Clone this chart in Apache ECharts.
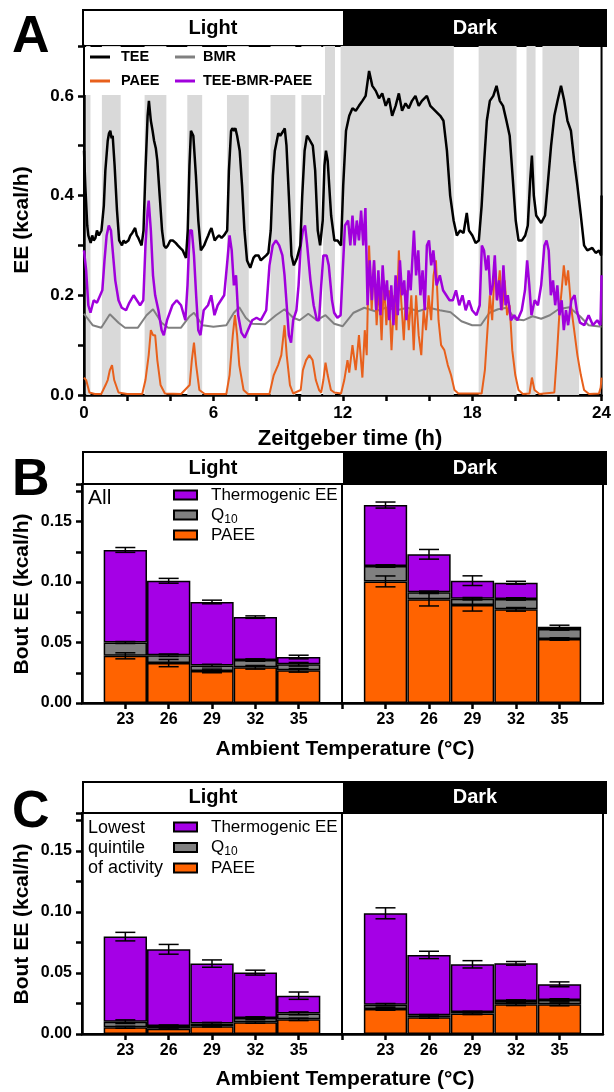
<!DOCTYPE html>
<html>
<head>
<meta charset="utf-8">
<script src="https://cdn.jsdelivr.net/npm/echarts@6/dist/echarts.min.js"></script>
<style>
  html, body { margin: 0; padding: 0; background: #fff; }
  #main { width: 614px; height: 1092px; }
</style>
</head>
<body>
<div id="main"></div>
<script>
// ---- panel A: traces over the day, [zeitgeber h, kcal/h] ----
var teeData = [[0,0.49],[0.06,0.42],[0.15,0.34],[0.2,0.32],[0.31,0.305],[0.38,0.32],[0.45,0.31],[0.53,0.315],[0.6,0.33],[0.69,0.32],[0.81,0.33],[0.92,0.38],[0.99,0.45],[1.1,0.51],[1.16,0.525],[1.22,0.53],[1.28,0.515],[1.33,0.52],[1.42,0.46],[1.53,0.37],[1.63,0.31],[1.76,0.30],[1.84,0.31],[1.91,0.305],[2.06,0.31],[2.15,0.32],[2.24,0.325],[2.37,0.335],[2.45,0.32],[2.52,0.315],[2.67,0.30],[2.76,0.33],[2.85,0.45],[2.95,0.56],[3.01,0.59],[3.1,0.55],[3.18,0.53],[3.25,0.51],[3.33,0.495],[3.4,0.47],[3.51,0.40],[3.62,0.33],[3.71,0.30],[3.8,0.295],[3.89,0.30],[4.0,0.31],[4.12,0.31],[4.25,0.305],[4.35,0.30],[4.46,0.295],[4.58,0.29],[4.73,0.275],[4.81,0.33],[4.89,0.46],[4.96,0.53],[5.07,0.52],[5.19,0.44],[5.3,0.35],[5.42,0.29],[5.57,0.30],[5.66,0.31],[5.76,0.32],[5.85,0.33],[5.91,0.335],[6.0,0.32],[6.06,0.31],[6.15,0.315],[6.26,0.32],[6.38,0.315],[6.49,0.32],[6.64,0.33],[6.72,0.45],[6.82,0.53],[6.88,0.535],[6.95,0.53],[7.02,0.535],[7.1,0.52],[7.22,0.49],[7.33,0.42],[7.44,0.33],[7.56,0.27],[7.71,0.255],[7.86,0.275],[7.95,0.28],[8.09,0.28],[8.2,0.27],[8.32,0.275],[8.45,0.28],[8.55,0.285],[8.66,0.33],[8.76,0.44],[8.85,0.49],[9.01,0.525],[9.1,0.52],[9.16,0.52],[9.25,0.53],[9.31,0.535],[9.39,0.50],[9.5,0.40],[9.62,0.28],[9.73,0.26],[9.88,0.275],[10.03,0.30],[10.12,0.40],[10.23,0.49],[10.34,0.52],[10.42,0.515],[10.49,0.515],[10.61,0.50],[10.72,0.45],[10.84,0.33],[10.95,0.30],[11.07,0.35],[11.15,0.46],[11.22,0.49],[11.3,0.47],[11.4,0.40],[11.46,0.36],[11.61,0.31],[11.76,0.31],[11.92,0.30],[12.02,0.42],[12.15,0.53],[12.3,0.56],[12.45,0.575],[12.6,0.57],[12.75,0.58],[12.91,0.59],[13.06,0.60],[13.22,0.65],[13.37,0.62],[13.53,0.61],[13.68,0.595],[13.83,0.605],[13.99,0.58],[14.14,0.595],[14.29,0.56],[14.45,0.58],[14.6,0.605],[14.75,0.57],[14.91,0.585],[15.06,0.575],[15.21,0.59],[15.37,0.60],[15.52,0.58],[15.67,0.59],[15.9,0.60],[16.06,0.58],[16.29,0.57],[16.52,0.56],[16.67,0.55],[16.83,0.49],[16.98,0.40],[17.14,0.35],[17.29,0.32],[17.44,0.33],[17.6,0.325],[17.75,0.365],[17.85,0.33],[18.01,0.32],[18.16,0.305],[18.31,0.31],[18.44,0.38],[18.56,0.47],[18.68,0.55],[18.82,0.59],[18.98,0.60],[19.13,0.62],[19.28,0.59],[19.43,0.58],[19.59,0.55],[19.74,0.52],[19.89,0.43],[20.02,0.35],[20.15,0.31],[20.31,0.31],[20.46,0.32],[20.58,0.34],[20.69,0.43],[20.77,0.48],[20.86,0.40],[20.97,0.36],[21.2,0.345],[21.38,0.36],[21.5,0.42],[21.66,0.50],[21.81,0.56],[21.96,0.59],[22.12,0.62],[22.27,0.59],[22.42,0.55],[22.58,0.53],[22.73,0.47],[22.88,0.42],[23.04,0.36],[23.19,0.30],[23.34,0.29],[23.57,0.295],[23.73,0.285],[23.88,0.29],[23.98,0.28],[24,0.40]];

var bmrData = [[0,0.163],[0.4,0.14],[0.8,0.135],[1.2,0.162],[1.6,0.145],[1.9,0.135],[2.5,0.135],[2.9,0.16],[3.2,0.172],[3.6,0.145],[3.9,0.135],[4.5,0.135],[4.9,0.158],[5.1,0.165],[5.5,0.14],[6,0.137],[6.6,0.14],[6.95,0.165],[7.2,0.176],[7.5,0.155],[7.8,0.143],[8.4,0.142],[8.9,0.16],[9.3,0.172],[9.7,0.155],[10.0,0.15],[10.4,0.163],[10.8,0.15],[11.2,0.16],[11.6,0.143],[12.0,0.138],[12.5,0.165],[13.0,0.175],[13.5,0.168],[14,0.175],[14.5,0.17],[15,0.175],[15.5,0.168],[16,0.175],[16.5,0.17],[17,0.166],[17.5,0.148],[18,0.14],[18.4,0.14],[18.8,0.165],[19.2,0.172],[19.6,0.175],[20,0.152],[20.4,0.15],[20.8,0.158],[21.2,0.153],[21.6,0.16],[22,0.172],[22.5,0.176],[23,0.158],[23.4,0.14],[24,0.137]];

var paeeData = [[0,0.035],[0.1,0.03],[0.25,0.005],[0.5,0.002],[0.8,0.002],[1.0,0.02],[1.1,0.03],[1.2,0.05],[1.3,0.06],[1.4,0.03],[1.6,0.005],[2.0,0.002],[2.7,0.002],[2.85,0.03],[3.0,0.08],[3.1,0.13],[3.2,0.12],[3.3,0.12],[3.4,0.07],[3.55,0.02],[3.75,0.003],[4.5,0.002],[4.9,0.02],[5.0,0.07],[5.1,0.105],[5.2,0.06],[5.35,0.01],[5.6,0.002],[6.6,0.002],[6.75,0.04],[6.9,0.12],[7.0,0.16],[7.1,0.12],[7.2,0.06],[7.4,0.01],[7.6,0.002],[8.6,0.002],[8.8,0.04],[9.0,0.06],[9.15,0.08],[9.3,0.14],[9.4,0.08],[9.55,0.02],[9.7,0.003],[10.05,0.01],[10.15,0.05],[10.3,0.07],[10.45,0.08],[10.6,0.07],[10.75,0.03],[10.9,0.01],[11.0,0.005],[11.1,0.03],[11.2,0.065],[11.3,0.04],[11.45,0.01],[11.61,0.005],[11.92,0.003],[12.07,0.03],[12.22,0.07],[12.3,0.045],[12.45,0.10],[12.6,0.05],[12.75,0.12],[12.91,0.035],[13.02,0.13],[13.11,0.08],[13.22,0.30],[13.34,0.17],[13.45,0.27],[13.57,0.14],[13.68,0.22],[13.8,0.11],[13.91,0.23],[14.02,0.14],[14.14,0.21],[14.26,0.09],[14.39,0.20],[14.49,0.13],[14.6,0.29],[14.71,0.19],[14.83,0.11],[14.94,0.21],[15.06,0.13],[15.18,0.20],[15.29,0.09],[15.4,0.20],[15.52,0.12],[15.64,0.08],[15.75,0.17],[15.86,0.13],[15.98,0.20],[16.1,0.15],[16.21,0.24],[16.32,0.27],[16.44,0.15],[16.56,0.10],[16.71,0.09],[16.87,0.06],[17.02,0.04],[17.18,0.01],[17.36,0.003],[18.44,0.003],[18.59,0.05],[18.71,0.13],[18.82,0.20],[18.93,0.15],[19.05,0.26],[19.15,0.19],[19.28,0.25],[19.39,0.17],[19.51,0.23],[19.62,0.16],[19.74,0.18],[19.86,0.09],[20.0,0.04],[20.15,0.01],[20.35,0.002],[20.66,0.003],[20.77,0.035],[20.89,0.01],[21.12,0.002],[21.81,0.005],[21.93,0.08],[22.04,0.16],[22.15,0.21],[22.25,0.26],[22.35,0.22],[22.45,0.25],[22.58,0.18],[22.73,0.13],[22.88,0.08],[23.04,0.04],[23.19,0.01],[23.42,0.002],[23.88,0.003],[23.96,0.015],[24,0.035]];

var restData = [[0,0.29],[0.1,0.25],[0.2,0.18],[0.3,0.165],[0.45,0.19],[0.6,0.185],[0.75,0.20],[0.85,0.21],[0.95,0.27],[1.05,0.32],[1.15,0.34],[1.25,0.33],[1.35,0.28],[1.45,0.23],[1.6,0.19],[1.75,0.175],[1.95,0.17],[2.1,0.185],[2.3,0.20],[2.45,0.19],[2.6,0.18],[2.75,0.19],[2.85,0.30],[2.95,0.37],[3.0,0.39],[3.1,0.33],[3.2,0.24],[3.3,0.20],[3.45,0.17],[3.6,0.13],[3.7,0.12],[3.85,0.15],[4.1,0.18],[4.3,0.19],[4.5,0.18],[4.7,0.15],[4.8,0.22],[4.9,0.33],[5.0,0.33],[5.1,0.28],[5.2,0.20],[5.3,0.13],[5.4,0.12],[5.55,0.17],[5.75,0.18],[5.9,0.20],[6.05,0.16],[6.2,0.18],[6.35,0.19],[6.5,0.20],[6.65,0.27],[6.75,0.32],[6.85,0.29],[6.95,0.22],[7.05,0.24],[7.15,0.16],[7.3,0.125],[7.45,0.115],[7.6,0.13],[7.8,0.15],[8.0,0.155],[8.2,0.15],[8.45,0.17],[8.6,0.26],[8.75,0.30],[8.9,0.31],[9.05,0.30],[9.2,0.28],[9.3,0.24],[9.4,0.18],[9.5,0.12],[9.6,0.105],[9.7,0.15],[9.85,0.17],[9.95,0.22],[10.05,0.30],[10.15,0.33],[10.25,0.34],[10.35,0.30],[10.5,0.23],[10.65,0.18],[10.8,0.15],[10.9,0.15],[11.0,0.22],[11.1,0.28],[11.25,0.28],[11.35,0.26],[11.5,0.19],[11.6,0.165],[11.75,0.155],[11.9,0.16],[12.0,0.25],[12.1,0.34],[12.25,0.35],[12.35,0.30],[12.45,0.36],[12.55,0.30],[12.65,0.35],[12.75,0.31],[12.85,0.37],[12.95,0.30],[13.05,0.375],[13.15,0.18],[13.25,0.27],[13.35,0.19],[13.45,0.27],[13.55,0.17],[13.65,0.25],[13.75,0.16],[13.85,0.26],[13.95,0.19],[14.05,0.23],[14.15,0.15],[14.25,0.22],[14.35,0.14],[14.45,0.24],[14.55,0.16],[14.65,0.27],[14.75,0.20],[14.85,0.23],[14.95,0.15],[15.05,0.25],[15.15,0.21],[15.3,0.33],[15.4,0.24],[15.5,0.29],[15.6,0.20],[15.7,0.25],[15.8,0.17],[15.9,0.30],[16.0,0.31],[16.1,0.26],[16.2,0.29],[16.35,0.22],[16.5,0.24],[16.65,0.21],[16.8,0.20],[16.95,0.19],[17.1,0.19],[17.25,0.21],[17.4,0.18],[17.55,0.20],[17.7,0.17],[17.85,0.19],[18.0,0.17],[18.2,0.16],[18.35,0.18],[18.45,0.30],[18.55,0.29],[18.65,0.25],[18.75,0.28],[18.85,0.20],[18.95,0.22],[19.05,0.28],[19.15,0.19],[19.25,0.23],[19.35,0.17],[19.45,0.26],[19.55,0.18],[19.65,0.20],[19.8,0.15],[19.95,0.16],[20.1,0.15],[20.3,0.17],[20.45,0.21],[20.55,0.27],[20.65,0.22],[20.75,0.16],[20.9,0.19],[21.05,0.18],[21.2,0.22],[21.35,0.30],[21.45,0.31],[21.55,0.29],[21.65,0.20],[21.75,0.23],[21.85,0.18],[21.95,0.22],[22.05,0.16],[22.15,0.19],[22.25,0.13],[22.35,0.17],[22.45,0.14],[22.6,0.19],[22.75,0.20],[22.85,0.17],[23.0,0.145],[23.2,0.14],[23.4,0.16],[23.6,0.14],[23.8,0.15],[23.95,0.14],[24.0,0.24]];

// shaded activity periods (h)
var activeBands = [[0.1,0.3],[0.83,1.7],[2.81,3.82],[4.79,5.48],[6.63,7.64],[8.65,9.8],[10.08,11.0],[11.09,11.64],[11.9,17.15],[18.3,20.06],[20.52,20.94],[21.26,22.96]];

// ---- panels B and C: bout EE (kcal/h) by ambient temperature ----
var temps = ['23', '26', '29', '32', '35'];

var allLightPaee   = [0.039, 0.033, 0.0265, 0.0295, 0.027];
var allLightQ10    = [0.011, 0.0065, 0.0045, 0.006, 0.005];
var allLightThermo = [0.0765, 0.0615, 0.0525, 0.0355, 0.006];
var allLightSem    = [[0.0025,0.003,0.0015,0.0015,0.0015],[0.0008,0.001,0.001,0.001,0.0015],[0.002,0.002,0.0015,0.001,0.0015]];

var allDarkPaee   = [0.1005, 0.0857, 0.081, 0.0774, 0.0529];
var allDarkQ10    = [0.0127, 0.0058, 0.0052, 0.0086, 0.0083];
var allDarkThermo = [0.0504, 0.0314, 0.0149, 0.0134, 0.0019];
var allDarkSem    = [[0.0045,0.0055,0.005,0.0015,0.001],[0.001,0.001,0.001,0.001,0.001],[0.0025,0.004,0.004,0.0012,0.0012]];

var lowLightPaee   = [0.0055, 0.0044, 0.0063, 0.0096, 0.012];
var lowLightQ10    = [0.0046, 0.0022, 0.0024, 0.0035, 0.0049];
var lowLightThermo = [0.0697, 0.0628, 0.049, 0.0372, 0.0145];
var lowLightSem    = [[0.0008,0.0005,0.0005,0.0008,0.001],[0.0015,0.0008,0.0008,0.001,0.0012],[0.0035,0.004,0.003,0.002,0.003]];

var lowDarkPaee   = [0.0205, 0.0137, 0.0167, 0.0243, 0.0243];
var lowDarkQ10    = [0.0035, 0.0016, 0.0013, 0.0027, 0.0036];
var lowDarkThermo = [0.0749, 0.0495, 0.0391, 0.0309, 0.0128];
var lowDarkSem    = [[0.001,0.0008,0.0008,0.001,0.0012],[0.001,0.0006,0.0006,0.001,0.001],[0.0045,0.003,0.003,0.0015,0.002]];

var FONT = '"Liberation Sans", Arial, sans-serif';
var C_PURPLE = '#a500e6', C_GRAY = '#808080', C_ORANGE = '#ff6300';

// category slots: an empty slot either side of the five temperatures
var slots = [''].concat(temps, ['']);

function errorBarItem(params, api) {
  var x = api.value(0), top = api.value(1), err = api.value(2);
  var hi = api.coord([x, top + err]), lo = api.coord([x, top - err]);
  var s = { stroke: '#000', lineWidth: 1.5 };
  return { type: 'group', children: [
    { type: 'line', shape: { x1: hi[0], y1: hi[1], x2: lo[0], y2: lo[1] }, style: s },
    { type: 'line', shape: { x1: hi[0] - 10, y1: hi[1], x2: hi[0] + 10, y2: hi[1] }, style: s },
    { type: 'line', shape: { x1: lo[0] - 10, y1: lo[1], x2: lo[0] + 10, y2: lo[1] }, style: s }
  ]};
}

// stacked bars + error bars for one half-panel
function barSeries(axisIdx, paee, q10, thermo, sem) {
  var stack = 'st' + axisIdx;
  var parts = [
    { name: 'PAEE (bout)', vals: paee, color: C_ORANGE },
    { name: 'Q10', vals: q10, color: C_GRAY },
    { name: 'Thermogenic EE', vals: thermo, color: C_PURPLE }
  ];
  var out = [], running = [0, 0, 0, 0, 0];
  parts.forEach(function (p, k) {
    out.push({
      type: 'bar', name: p.name, stack: stack,
      xAxisIndex: axisIdx, yAxisIndex: axisIdx,
      barWidth: 43.3, color: p.color,
      itemStyle: { color: p.color, borderColor: '#000', borderWidth: 1.5 },
      data: ['-'].concat(p.vals, ['-'])
    });
    running = running.map(function (r, i) { return r + p.vals[i]; });
    var tops = running.slice();
    out.push({
      type: 'custom', renderItem: errorBarItem, z: 5, silent: true,
      xAxisIndex: axisIdx, yAxisIndex: axisIdx,
      data: tops.map(function (t, i) { return [i + 1, t, sem[k][i]]; })
    });
  });
  return out;
}

function barX(grid, isDark) {
  return {
    gridIndex: grid, type: 'category', data: slots, boundaryGap: false,
    axisLine: { lineStyle: { color: '#000', width: 2.5 } },
    axisTick: { length: 6, lineStyle: { color: '#000', width: 2.5 },
      interval: function (i) { return isDark ? i < 6 : i > 0; } },
    axisLabel: { interval: 0, color: '#000', fontSize: 16, fontWeight: 'bold', fontFamily: FONT, margin: 9 },
    splitLine: { show: false }
  };
}
function barY(grid, max, show) {
  return {
    gridIndex: grid, type: 'value', min: 0, max: max, interval: 0.025, show: show,
    axisLine: { show: true, lineStyle: { color: '#000', width: 2.5 } },
    axisTick: { show: true, length: 6, lineStyle: { color: '#000', width: 2.5 } },
    axisLabel: { formatter: function (v) {
        var k = v * 20; return (Math.abs(k - Math.round(k)) < 1e-6 && v < 0.17) ? v.toFixed(2) : ''; },
      color: '#000', fontSize: 16, fontWeight: 'bold', fontFamily: FONT, margin: 10 },
    splitLine: { show: false }
  };
}

function header(y, h, size) {
  return [
    { type: 'rect', shape: { x: 83, y: y, width: 261, height: h }, style: { fill: '#fff', stroke: '#000', lineWidth: 2 } },
    { type: 'rect', shape: { x: 344, y: y, width: 262, height: h }, style: { fill: '#000', stroke: '#000', lineWidth: 2 } },
    { type: 'text', x: 213, y: y + h / 2, style: { text: 'Light', fill: '#000', font: 'bold ' + size + 'px ' + FONT, align: 'center', verticalAlign: 'middle' } },
    { type: 'text', x: 475, y: y + h / 2, style: { text: 'Dark', fill: '#fff', font: 'bold ' + size + 'px ' + FONT, align: 'center', verticalAlign: 'middle' } }
  ];
}
function label(x, y, s, font, align, rot) {
  return { type: 'text', x: x, y: y, z: 30, rotation: rot || 0,
    style: { text: s, fill: '#000', font: font, align: align || 'left', verticalAlign: 'middle' } };
}

var graphics = [].concat(
  header(10, 36, 20), header(452, 32, 20), header(782, 31, 20),
  [
    { type: 'rect', z: 10, shape: { x: 85, y: 47, width: 240, height: 48 }, style: { fill: '#fff' } },
    label(12, 38, 'A', 'bold 52px ' + FONT),
    label(12, 481, 'B', 'bold 52px ' + FONT),
    label(12, 813, 'C', 'bold 52px ' + FONT),
    label(350, 439, 'Zeitgeber time (h)', 'bold 22px ' + FONT, 'center'),
    label(345, 749, 'Ambient Temperature (°C)', 'bold 21px ' + FONT, 'center'),
    label(345, 1079, 'Ambient Temperature (°C)', 'bold 21px ' + FONT, 'center'),
    label(22, 220, 'EE (kcal/h)', 'bold 21px ' + FONT, 'center', Math.PI / 2),
    label(22, 594, 'Bout EE (kcal/h)', 'bold 21px ' + FONT, 'center', Math.PI / 2),
    label(22, 924, 'Bout EE (kcal/h)', 'bold 21px ' + FONT, 'center', Math.PI / 2),
    label(88, 498, 'All', '21px ' + FONT),
    label(88, 828, 'Lowest', '18px ' + FONT),
    label(88, 848, 'quintile', '18px ' + FONT),
    label(88, 868, 'of activity', '18px ' + FONT)
  ]
);

var lineLegend = function (left, names, pad) {
  return {
    data: names, left: left, top: 49, orient: 'vertical', padding: 0, itemGap: 8, z: 40,
    icon: 'rect', itemWidth: 20, itemHeight: 3, selectedMode: false,
    textStyle: { fontSize: 14.5, fontWeight: 'bold', fontFamily: FONT, color: '#000', lineHeight: 16, padding: [0, 0, 0, pad] }
  };
};
var barLegend = function (top, gap) {
  return {
    data: ['Thermogenic EE', 'Q10', 'PAEE (bout)'], left: 173, top: top, orient: 'vertical',
    padding: 0, itemGap: gap, z: 40, icon: 'rect', itemWidth: 23, itemHeight: 9, selectedMode: false,
    formatter: function (n) { return n === 'Q10' ? 'Q{sub|10}' : n.replace(' (bout)', ''); },
    textStyle: { fontSize: 17, fontFamily: FONT, color: '#000', lineHeight: 18, padding: [0, 0, 0, 9],
      rich: { sub: { fontSize: 12, fontFamily: FONT, color: '#000', lineHeight: 18, padding: [9, 0, 0, 0] } } }
  };
};

var chart = echarts.init(document.getElementById('main'));
chart.setOption({
  animation: false,
  backgroundColor: '#fff',
  grid: [
    { left: 84, top: 46, width: 522, height: 349, show: true, borderColor: '#000', borderWidth: 2 },
    { left: 82, top: 484, width: 260, height: 219, show: true, borderColor: '#000', borderWidth: 2 },
    { left: 342, top: 484, width: 261, height: 219, show: true, borderColor: '#000', borderWidth: 2 },
    { left: 82, top: 813, width: 260, height: 221, show: true, borderColor: '#000', borderWidth: 2 },
    { left: 342, top: 813, width: 261, height: 221, show: true, borderColor: '#000', borderWidth: 2 }
  ],
  legend: [lineLegend(90, ['TEE', 'PAEE'], 6), lineLegend(175, ['BMR', 'TEE-BMR-PAEE'], 3), barLegend(486, 0.5), barLegend(818, 1)],
  xAxis: [
    { gridIndex: 0, type: 'value', min: 0, max: 24, interval: 2,
      axisLine: { lineStyle: { color: '#000', width: 2.5 } },
      axisTick: { length: 6, lineStyle: { color: '#000', width: 2.5 } },
      axisLabel: { formatter: function (v) { return v % 6 === 0 ? String(v) : ''; },
        color: '#000', fontSize: 17, fontWeight: 'bold', fontFamily: FONT, margin: 10 },
      splitLine: { show: false } },
    barX(1, false), barX(2, true), barX(3, false), barX(4, true)
  ],
  yAxis: [
    { gridIndex: 0, type: 'value', min: 0, max: 0.7, interval: 0.1,
      axisLine: { show: true, lineStyle: { color: '#000', width: 2.5 } },
      axisTick: { show: true, length: 6, lineStyle: { color: '#000', width: 2.5 } },
      axisLabel: { formatter: function (v) { var k = Math.round(v * 10); return (k % 2 === 0 && k < 7) ? v.toFixed(1) : ''; },
        color: '#000', fontSize: 17, fontWeight: 'bold', fontFamily: FONT, margin: 10 },
      splitLine: { show: false } },
    barY(1, 0.181, true), barY(2, 0.181, false), barY(3, 0.1811, true), barY(4, 0.1811, false)
  ],
  graphic: { elements: graphics },
  series: [
    { type: 'line', name: 'BMR', data: bmrData, showSymbol: false, color: '#808080',
      lineStyle: { color: '#808080', width: 2 },
      markArea: { silent: true, itemStyle: { color: '#d9d9d9' },
        data: activeBands.map(function (b) { return [{ xAxis: b[0] }, { xAxis: b[1] }]; }) } },
    { type: 'line', name: 'PAEE', data: paeeData, showSymbol: false, color: '#e8601c',
      lineStyle: { color: '#e8601c', width: 2 } },
    { type: 'line', name: 'TEE-BMR-PAEE', data: restData, showSymbol: false, color: '#a000dc',
      lineStyle: { color: '#a000dc', width: 2.5 } },
    { type: 'line', name: 'TEE', data: teeData, showSymbol: false, color: '#000',
      lineStyle: { color: '#000', width: 2.5 } }
  ].concat(
    barSeries(1, allLightPaee, allLightQ10, allLightThermo, allLightSem),
    barSeries(2, allDarkPaee, allDarkQ10, allDarkThermo, allDarkSem),
    barSeries(3, lowLightPaee, lowLightQ10, lowLightThermo, lowLightSem),
    barSeries(4, lowDarkPaee, lowDarkQ10, lowDarkThermo, lowDarkSem)
  )
});
</script>
</body>
</html>
